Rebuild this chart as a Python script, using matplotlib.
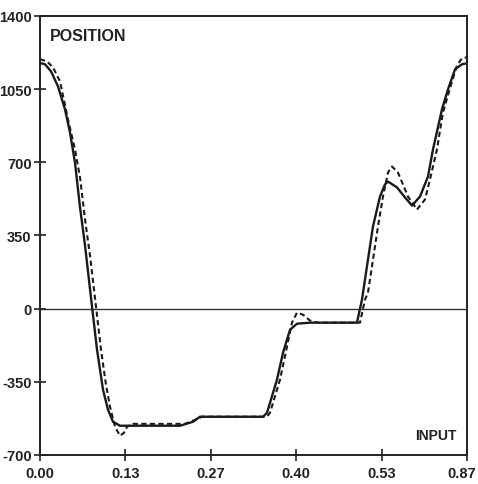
import matplotlib
matplotlib.use("Agg")
import matplotlib.pyplot as plt
from matplotlib.transforms import ScaledTranslation

plt.rcParams['font.family'] = ['Liberation Sans', 'DejaVu Sans']
plt.rcParams['font.weight'] = 'bold'

# tick positions and their printed labels
x_ticks = [0.0, 0.1333, 0.2667, 0.4, 0.5333, 0.6667]
x_labels = ["0.00", "0.13", "0.27", "0.40", "0.53", "0.87"]
y_ticks = [-700, -350, 0, 350, 700, 1050, 1400]
y_labels = ["-700", "-350", "0", "350", "700", "1050", "1400"]

# measured response (solid)
x_actual = [0.0, 0.0078, 0.0172, 0.0281, 0.0390, 0.0468, 0.0546, 0.0625,
            0.0703, 0.0812, 0.0890, 0.0984, 0.1062, 0.1140, 0.1249, 0.2186,
            0.2389, 0.2498, 0.3482, 0.3544, 0.3700, 0.3794, 0.3903, 0.4013,
            0.4216, 0.4949, 0.5027, 0.5121, 0.5199, 0.5308, 0.5386, 0.5433,
            0.5574, 0.5699, 0.5808, 0.5933, 0.6058, 0.6136, 0.6276, 0.6370,
            0.6480, 0.6589, 0.6667]
y_actual = [1175, 1169, 1135, 1063, 953, 843, 699, 484,
            302, 10, -196, -388, -484, -541, -560, -560,
            -541, -517, -517, -498, -340, -211, -101, -72,
            -67, -67, 43, 235, 393, 536, 594, 608,
            580, 532, 493, 536, 632, 762, 953, 1049,
            1145, 1169, 1174]

# commanded / model response (dashed)
x_model = [0.0, 0.0109, 0.0203, 0.0312, 0.0437, 0.0546, 0.0625, 0.0703,
           0.0781, 0.0874, 0.0952, 0.1030, 0.1093, 0.1171, 0.1249, 0.1311,
           0.1358, 0.1452, 0.2264, 0.2420, 0.2529, 0.3544, 0.3591, 0.3747,
           0.3856, 0.3934, 0.4013, 0.4106, 0.4216, 0.4340, 0.4996, 0.5074,
           0.5121, 0.5199, 0.5277, 0.5355, 0.5433, 0.5496, 0.5589, 0.5746,
           0.5886, 0.6011, 0.6089, 0.6198, 0.6292, 0.6433, 0.6511, 0.6589,
           0.6667]
y_model = [1193, 1183, 1154, 1087, 905, 762, 627, 426,
           254, 10, -196, -364, -469, -565, -608, -594,
           -565, -551, -551, -532, -517, -517, -498, -340,
           -182, -67, -19, -29, -57, -67, -67, 43,
           77, 235, 393, 536, 651, 680, 651, 536,
           474, 522, 618, 762, 939, 1087, 1164, 1198,
           1202]

fig = plt.figure(figsize=(4.78, 4.85), dpi=100)
ax = fig.add_axes([0.0837, 0.0598, 0.8933, 0.9052])

ax.axhline(0, color='#333333', lw=1.0, zorder=1)
ax.plot(x_actual, y_actual, color='#1a1a1a', lw=1.7, solid_joinstyle='round',
        zorder=3)
ax.plot(x_model, y_model, color='#1a1a1a', lw=1.5, linestyle=(0, (2.5, 1.6)),
        zorder=2)

ax.set_xlim(0, 0.6667)
ax.set_ylim(-700, 1400)
ax.set_xticks(x_ticks)
ax.set_xticklabels(x_labels)
ax.set_yticks(y_ticks)
ax.set_yticklabels(y_labels)

for s in ax.spines.values():
    s.set_linewidth(1.4)
    s.set_color('#222222')

ax.tick_params(axis='both', direction='inout', length=8, width=1.2,
               colors='#222222', labelsize=10.5)
ax.tick_params(axis='x', pad=4)
ax.tick_params(axis='y', pad=2)
for lab in ax.get_xticklabels() + ax.get_yticklabels():
    lab.set_fontweight('bold')

# keep the last x label inside the canvas
last = ax.get_xticklabels()[-1]
last.set_transform(last.get_transform() +
                   ScaledTranslation(-5 / 100, 0, fig.dpi_scale_trans))

ax.text(0.022, 0.972, "POSITION", transform=ax.transAxes, ha='left',
        va='top', fontsize=11.5, fontweight='bold', color='#222222')
ax.text(0.975, 0.03, "INPUT", transform=ax.transAxes, ha='right',
        va='bottom', fontsize=10, fontweight='bold', color='#222222')

fig.savefig("out.png", dpi=100)
